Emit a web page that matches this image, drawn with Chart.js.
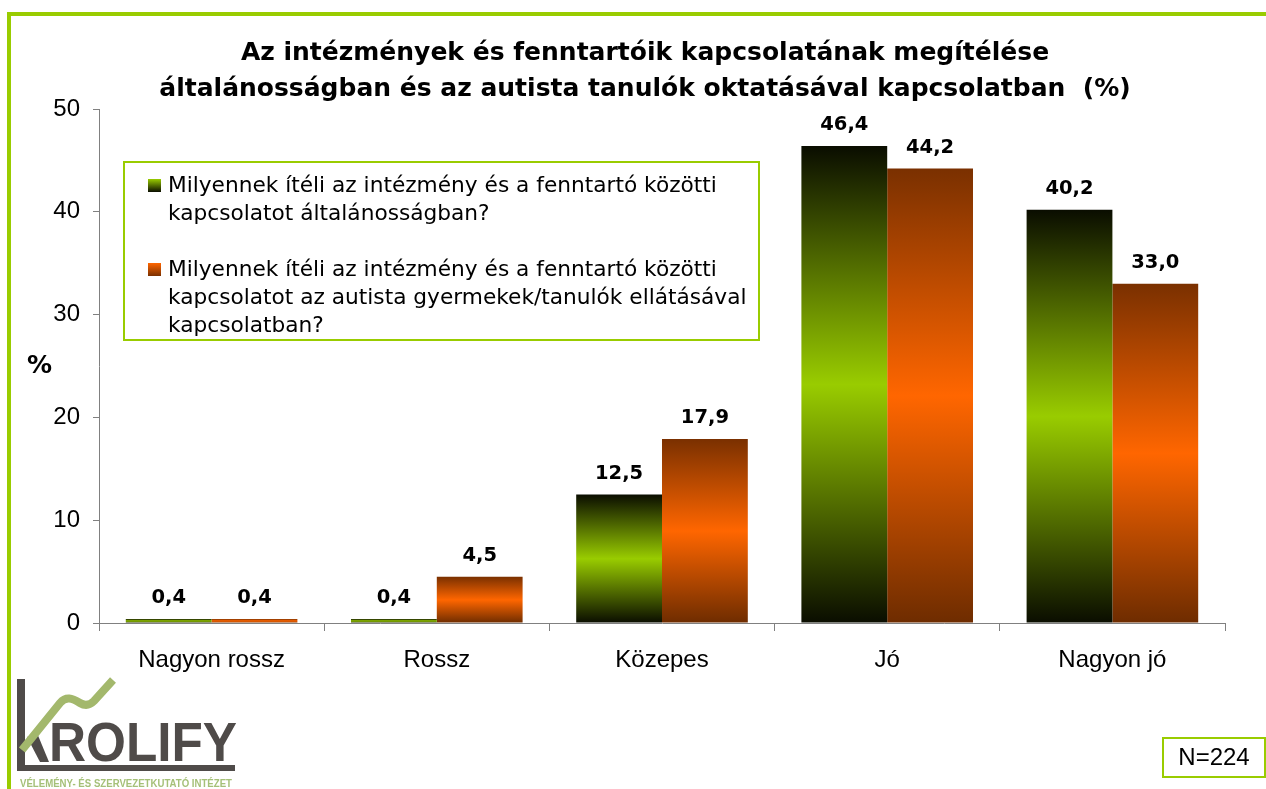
<!DOCTYPE html>
<html>
<head>
<meta charset="utf-8">
<script src="https://cdn.jsdelivr.net/npm/chart.js@4.4.1/dist/chart.umd.min.js"></script>
<style>
  body { margin: 0; background: #fff; }
  #wrap { position: relative; width: 1266px; height: 789px; overflow: hidden; }
  #frame { position: absolute; left: 7px; top: 12px; width: 1300px; height: 800px;
           border-left: 4px solid #99cc00; border-top: 4px solid #99cc00; box-sizing: border-box; }
  #title { position: absolute; left: 0; top: 34px; width: 1290px; text-align: center;
           font: bold 25px "DejaVu Sans"; line-height: 36px; color: #000; }
  #pct { position: absolute; left: 27px; top: 350px; font: bold 25px "DejaVu Sans"; }
  #legend { position: absolute; left: 123px; top: 161px; width: 637px; height: 180px;
            border: 2px solid #99cc00; box-sizing: border-box; background: #fff;
            font: 21.7px "DejaVu Sans"; line-height: 28px; color: #000; }
  .item { position: absolute; left: 23px; white-space: nowrap; }
  .sw { position: absolute; left: 0; top: 8px; width: 13px; height: 13px; }
  .txt { position: absolute; left: 20px; top: 0; }
  #nbox { position: absolute; left: 1162px; top: 737px; width: 104px; height: 41px;
          border: 2px solid #99cc00; box-sizing: border-box; font: 24px "Liberation Sans";
          line-height: 35px; text-align: center; }
  #logo { position: absolute; left: 0; top: 670px; }
</style>
</head>
<body>
<div id="wrap">
  <canvas id="chart" width="1266" height="789"></canvas>
  <div id="frame"></div>
  <div id="title">Az intézmények és fenntartóik kapcsolatának megítélése<br>általánosságban és az autista tanulók oktatásával kapcsolatban&nbsp; (%)</div>
  <div id="pct">%</div>
  <div id="legend"></div>
  <div id="nbox">N=224</div>
  <svg id="logo" width="260" height="119" viewBox="0 670 260 119">
    <rect x="17" y="679" width="8" height="92" fill="#4f4b49"/>
    <rect x="17" y="765" width="218" height="6" fill="#4f4b49"/>
    <polygon points="27,737 37,733 49,762 40,762" fill="#4f4b49"/>
    <path d="M22,750 L60,703 C66,696 72,698 80,703 C85,706 90,705 94,701 L113,680" fill="none" stroke="#a3b86c" stroke-width="8"/>
    <text x="49" y="761" font-family="Liberation Sans" font-weight="bold" font-size="56" fill="#4f4b49" textLength="188" lengthAdjust="spacingAndGlyphs">ROLIFY</text>
    <text x="20" y="787" font-family="Liberation Sans" font-weight="bold" font-size="11" fill="#a5c078" textLength="212" lengthAdjust="spacingAndGlyphs">VÉLEMÉNY- ÉS SZERVEZETKUTATÓ INTÉZET</text>
  </svg>
</div>
<script>
const categories = ["Nagyon rossz", "Rossz", "Közepes", "Jó", "Nagyon jó"];
const generalValues = [0.4, 0.4, 12.5, 46.4, 40.2];
const autismValues = [0.4, 4.5, 17.9, 44.2, 33.0];
const seriesLabels = [
  ["Milyennek ítéli az intézmény és a fenntartó közötti", "kapcsolatot általánosságban?"],
  ["Milyennek ítéli az intézmény és a fenntartó közötti", "kapcsolatot az autista gyermekek/tanulók ellátásával", "kapcsolatban?"]
];
const yTicks = [0, 10, 20, 30, 40, 50];

const greenStops = ["#0a0d00", "#99cc00", "#0a0d00"];
const orangeStops = ["#7a3000", "#ff6600", "#6e2c00"];

function barGradient(stops) {
  return function(ctx) {
    const chart = ctx.chart;
    if (!chart.chartArea || ctx.type !== "data") return stops[1];
    const y = chart.scales.y;
    const top = y.getPixelForValue(ctx.raw);
    const base = y.getPixelForValue(0);
    const g = chart.ctx.createLinearGradient(0, top, 0, base);
    g.addColorStop(0, stops[0]);
    g.addColorStop(0.5, stops[1]);
    g.addColorStop(1, stops[2]);
    return g;
  };
}

function fmt(v) { return v.toFixed(1).replace(".", ","); }

const valueLabels = {
  id: "valueLabels",
  afterDatasetsDraw(chart) {
    const c = chart.ctx;
    c.save();
    c.font = 'bold 19.5px "DejaVu Sans"';
    c.fillStyle = "#000";
    c.textAlign = "center";
    c.textBaseline = "middle";
    chart.data.datasets.forEach((ds, i) => {
      chart.getDatasetMeta(i).data.forEach((bar, j) => {
        c.fillText(fmt(ds.data[j]), bar.x, bar.y - 21);
      });
    });
    c.restore();
  }
};

window.addEventListener("load", function() {
  const chart = new Chart(document.getElementById("chart"), {
    type: "bar",
    data: {
      labels: categories,
      datasets: [
        { label: seriesLabels[0].join(" "), data: generalValues, backgroundColor: barGradient(greenStops) },
        { label: seriesLabels[1].join(" "), data: autismValues, backgroundColor: barGradient(orangeStops) }
      ]
    },
    options: {
      responsive: false,
      animation: false,
      layout: { padding: { left: 0, top: 109, right: 41, bottom: 0 } },
      datasets: { bar: { barPercentage: 1, categoryPercentage: 0.762 } },
      plugins: { legend: { display: false }, tooltip: { enabled: false }, title: { display: false } },
      scales: {
        x: {
          afterFit(s) { s.height = 166; },
          grid: { display: true, drawOnChartArea: false, offset: true, tickLength: 8, color: "#808080" },
          border: { color: "#808080" },
          ticks: { color: "#000", font: { family: "Liberation Sans", size: 24 }, padding: 15 }
        },
        y: {
          min: 0, max: 50,
          afterFit(s) { s.width = 99; },
          afterBuildTicks(s) { s.ticks = yTicks.map(v => ({ value: v })); },
          grid: { display: true, drawOnChartArea: false, tickLength: 6, color: "#808080" },
          border: { color: "#808080" },
          ticks: { color: "#000", font: { family: "Liberation Sans", size: 24 }, padding: 13 }
        }
      }
    },
    plugins: [valueLabels]
  });

  const legend = document.getElementById("legend");
  const tops = [8, 92];
  chart.data.datasets.forEach((ds, i) => {
    const stops = i === 0 ? greenStops : orangeStops;
    const item = document.createElement("div");
    item.className = "item";
    item.style.top = tops[i] + "px";
    const sw = document.createElement("div");
    sw.className = "sw";
    sw.style.background = "linear-gradient(" + stops[1] + "," + stops[0] + ")";
    const txt = document.createElement("div");
    txt.className = "txt";
    txt.innerHTML = seriesLabels[i].join("<br>");
    item.appendChild(sw);
    item.appendChild(txt);
    legend.appendChild(item);
  });
});
</script>
</body>
</html>
